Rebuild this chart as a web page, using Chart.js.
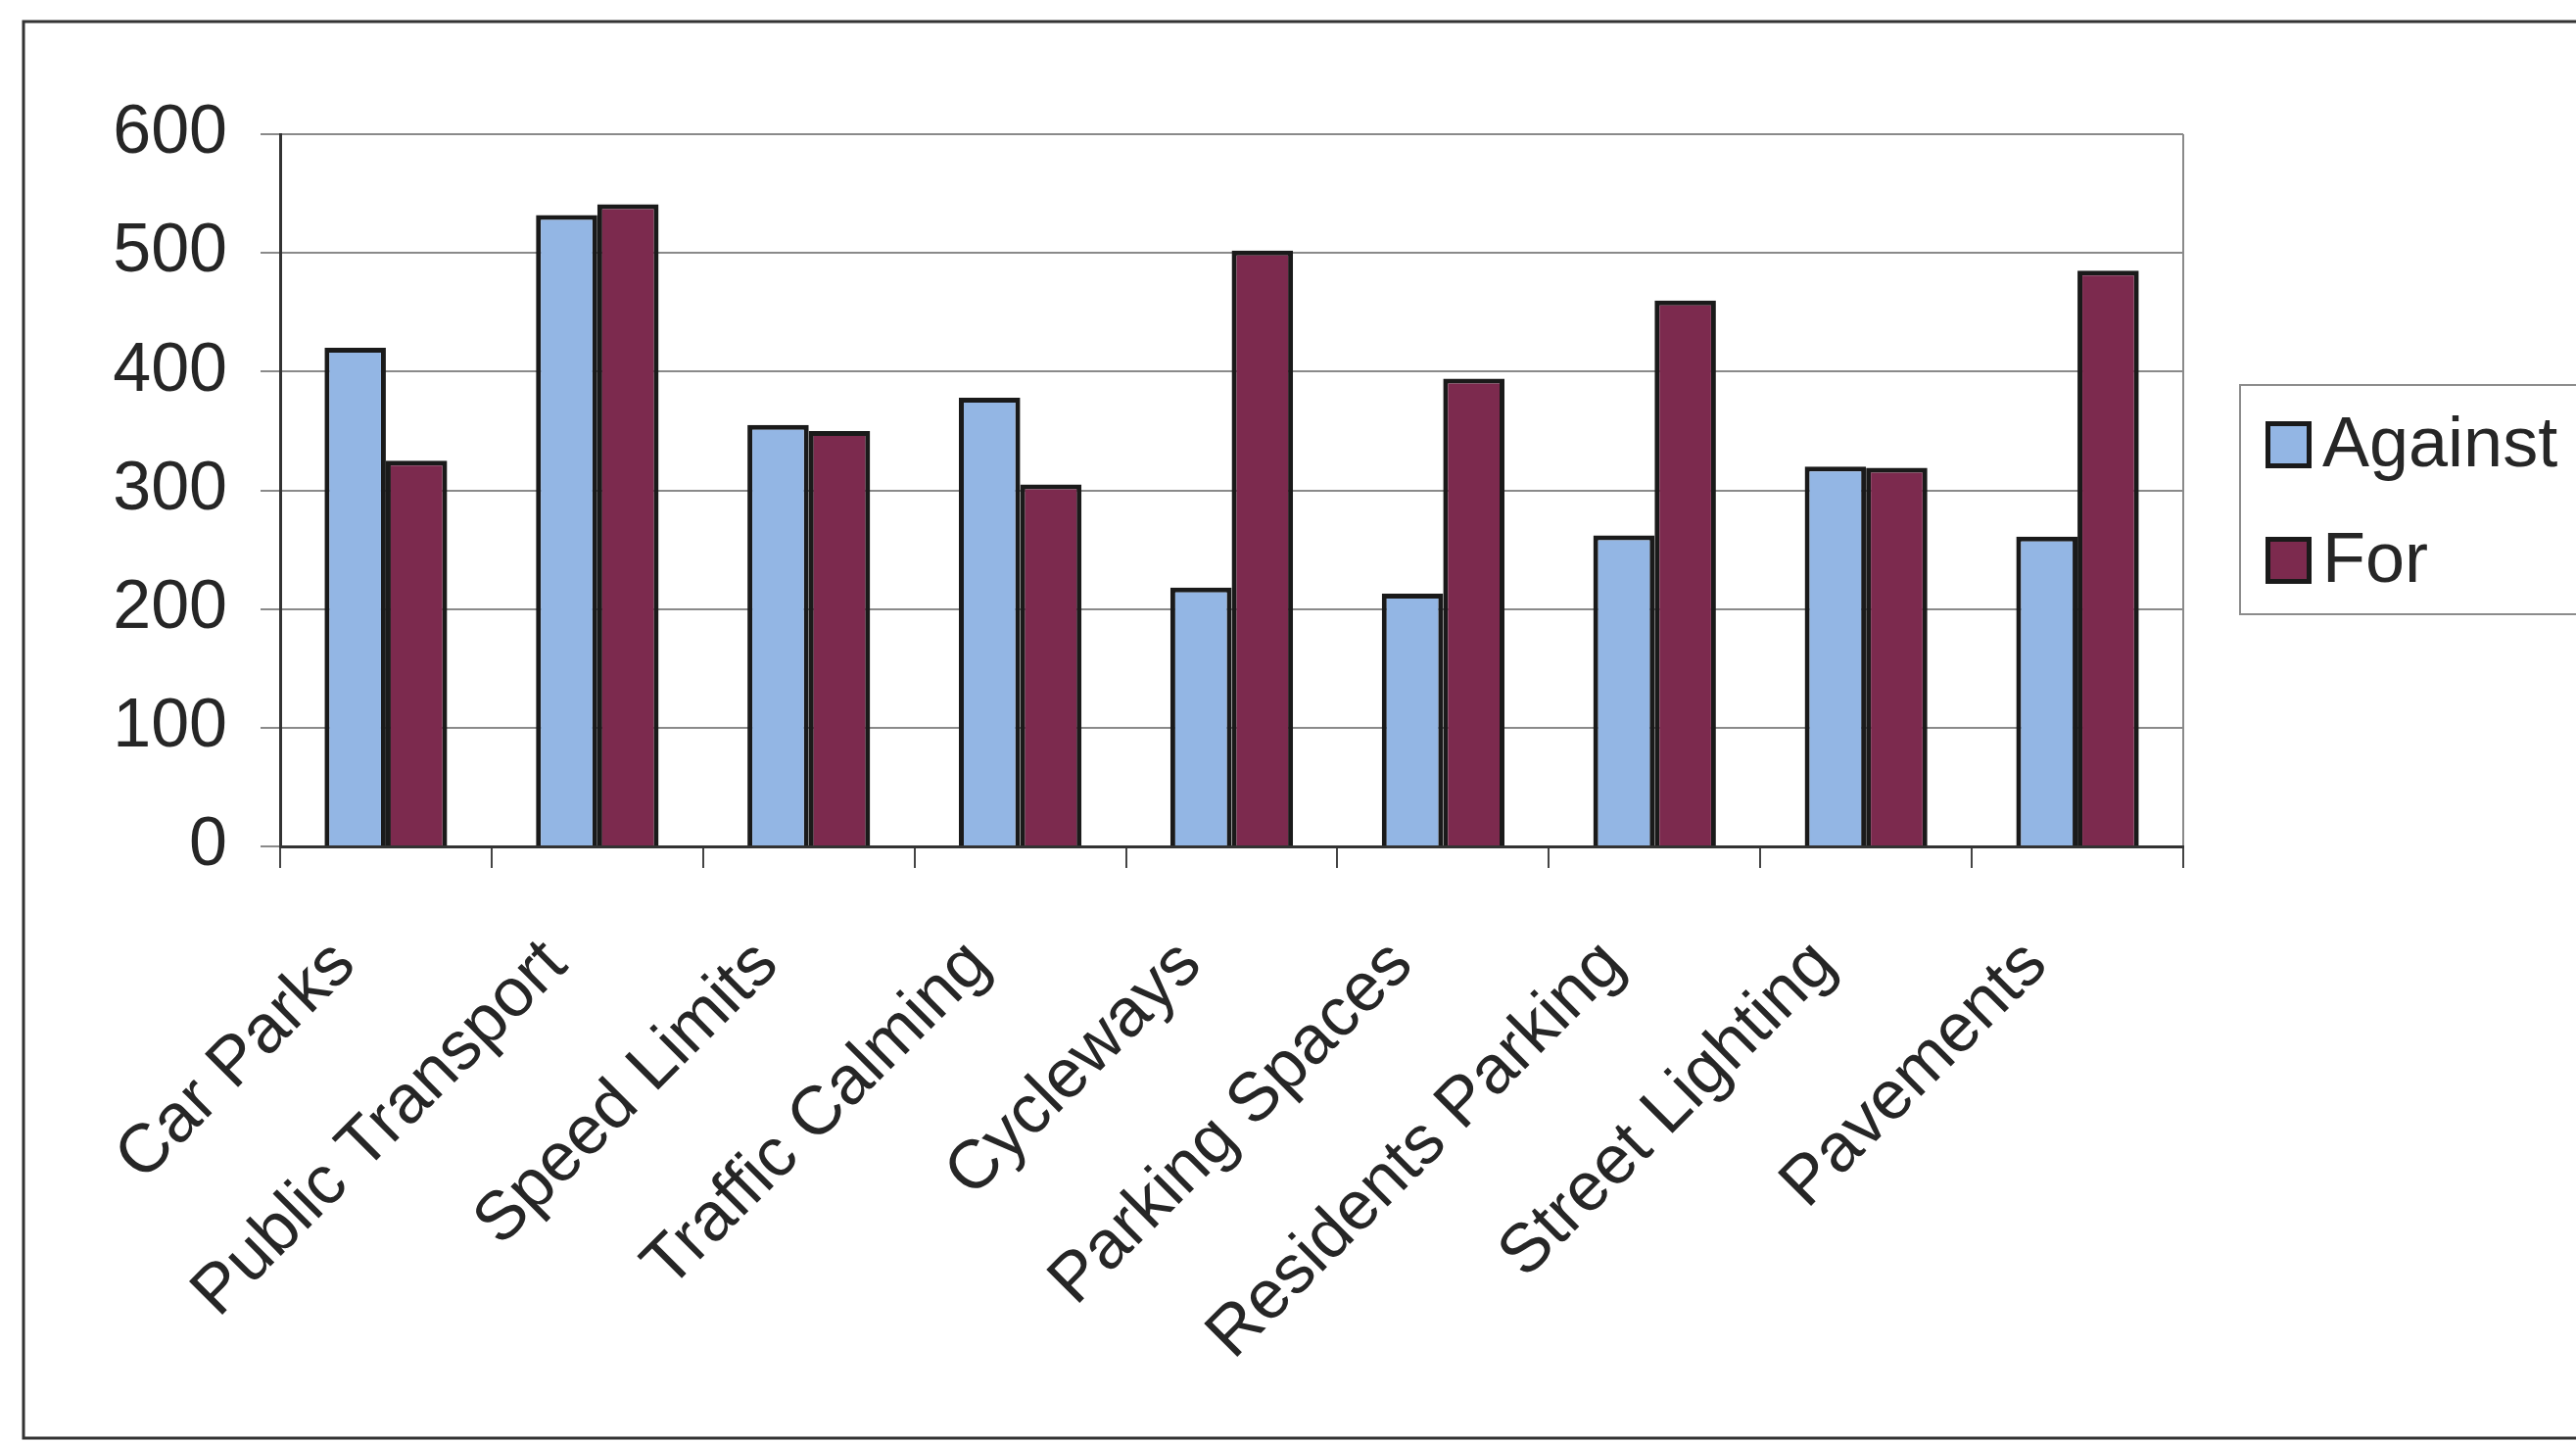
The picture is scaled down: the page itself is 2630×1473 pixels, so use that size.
<!DOCTYPE html>
<html>
<head>
<meta charset="utf-8">
<script src="https://cdn.jsdelivr.net/npm/chart.js@4.4.1/dist/chart.umd.min.js"></script>
<style>
  html, body { margin: 0; padding: 0; background: #fff; }
  #wrap { width: 2630px; height: 1473px; }
</style>
</head>
<body>
<div id="wrap"><canvas id="chart" width="2630" height="1473"></canvas></div>
<script>
// data
const categories = ['Car Parks', 'Public Transport', 'Speed Limits', 'Traffic Calming', 'Cycleways',
                    'Parking Spaces', 'Residents Parking', 'Street Lighting', 'Pavements'];
const against = [420, 532, 355, 378, 218, 213, 262, 320, 261];
const forVotes = [325, 541, 350, 305, 502, 394, 460, 319, 485];
const yTicks = [0, 100, 200, 300, 400, 500, 600];

const FONT = 'Arial, "Liberation Sans", sans-serif';
const TEXT = '#262626';

// outer frame + white background
const framePlugin = {
    id: 'frame',
    beforeDraw(chart) {
        const c = chart.ctx;
        c.save();
        c.fillStyle = '#fff';
        c.fillRect(0, 0, chart.width, chart.height);
        c.strokeStyle = '#333';
        c.lineWidth = 3;
        c.strokeRect(24, 22, chart.width + 20, 1446);
        c.restore();
    }
};

// boxed legend on the right, like the old spreadsheet one
const boxLegend = {
    id: 'boxLegend',
    afterDraw(chart) {
        const c = chart.ctx;
        c.save();
        c.strokeStyle = '#8c8c8c';
        c.lineWidth = 2;
        c.strokeRect(2287, 393, 400, 234);
        c.font = '72px ' + FONT;
        c.textBaseline = 'alphabetic';
        chart.data.datasets.forEach((ds, i) => {
            const y = 430 + i * 118;
            c.fillStyle = ds.backgroundColor;
            c.fillRect(2313, y, 47, 48);
            c.strokeStyle = '#1a1a1a';
            c.lineWidth = 5;
            c.strokeRect(2315.5, y + 2.5, 42, 43);
            c.fillStyle = TEXT;
            c.fillText(ds.label, 2371, y + 46);
        });
        c.restore();
    }
};

const ctx = document.getElementById('chart').getContext('2d');
const chart = new Chart(ctx, {
    type: 'bar',
    data: {
        labels: categories,
        datasets: [
            {
                label: 'Against',
                data: against,
                backgroundColor: '#93b6e4',
                borderColor: '#1a1a1a',
                borderWidth: 5,
                barPercentage: 1,
                categoryPercentage: 0.58
            },
            {
                label: 'For',
                data: forVotes,
                backgroundColor: '#7c2a4e',
                borderColor: '#1a1a1a',
                borderWidth: 5,
                barPercentage: 1,
                categoryPercentage: 0.58
            }
        ]
    },
    options: {
        responsive: false,
        animation: false,
        layout: { padding: { top: 137, right: 401, bottom: 0, left: 0 } },
        plugins: {
            legend: { display: false },
            tooltip: { enabled: false }
        },
        scales: {
            x: {
                grid: {
                    offset: true,
                    color: c => c.tick ? 'transparent' : '#8a8a8a',
                    lineWidth: 2,
                    tickColor: '#444',
                    tickLength: 22
                },
                border: { color: '#333', width: 3 },
                ticks: {
                    minRotation: 45,
                    maxRotation: 45,
                    padding: 58,
                    labelOffset: -42,
                    color: TEXT,
                    font: { family: FONT, size: 70 }
                },
                afterFit: s => { s.height = 609; }
            },
            y: {
                min: 0,
                max: 600,
                afterBuildTicks: s => { s.ticks = yTicks.map(v => ({ value: v })); },
                grid: {
                    color: '#8a8a8a',
                    lineWidth: 2,
                    tickColor: '#8a8a8a',
                    tickLength: 20
                },
                border: { color: '#333', width: 3 },
                ticks: {
                    padding: 34,
                    color: TEXT,
                    font: { family: FONT, size: 70 }
                },
                afterFit: s => { s.width = 286; }
            }
        }
    },
    plugins: [framePlugin, boxLegend]
});
</script>
</body>
</html>
